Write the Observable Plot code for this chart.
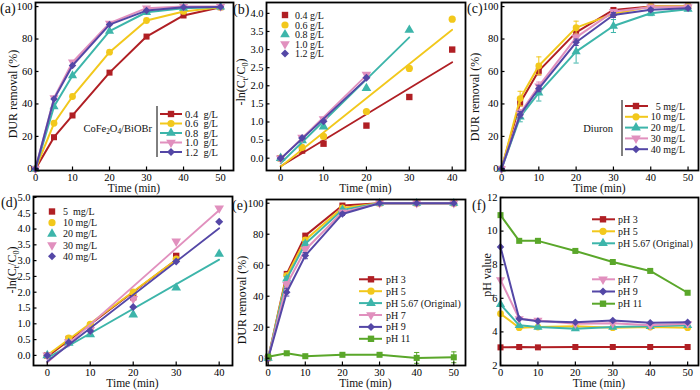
<!DOCTYPE html>
<html><head><meta charset="utf-8">
<script src="https://cdn.jsdelivr.net/npm/d3@7"></script>
<script src="https://cdn.jsdelivr.net/npm/@observablehq/plot@0.6"></script>
<style>
body{margin:0;background:#fff;}
#chart{position:relative;width:700px;height:390px;overflow:hidden;background:#fff;}
#chart svg{position:absolute;left:0;top:0;}
</style></head><body><div id="chart"></div>
<script>
const FONT = "'Liberation Serif','Times New Roman',serif";
const seriesColors = ["#b01f24", "#f2c81c", "#3db5aa", "#e190be", "#5447a6", "#5aa72a"];
const seriesSymbols = ["square", "circle", "triangle", "down", "diamond", "square"];

// ---------- (a) catalyst dosage ----------
const timeA = [0, 5, 10, 20, 30, 40, 50];
const dosageLabels = ["0.4  g/L", "0.6  g/L", "0.8  g/L", "1.0  g/L", "1.2  g/L"];
const remA04 = [0, 19.5, 32.9, 59.3, 81.5, 94.5, 99.6];
const remA06 = [0, 28.1, 44.6, 71.9, 91.4, 97.0, 99.5];
const remA08 = [0, 38.4, 57.5, 84.8, 96.5, 99.0, 99.8];
const remA10 = [0, 43.7, 65.7, 89.7, 99.0, 100, 100];
const remA12 = [0, 43.0, 63.7, 88.9, 97.5, 99.6, 99.8];

// ---------- (b) kinetics, dosage ----------
const timeB = [0, 5, 10, 20, 30, 40];
const dosageLabelsB = ["0.4 g/L", "0.6 g/L", "0.8 g/L", "1.0 g/L", "1.2 g/L"];
const lnB04 = [0, 0.21, 0.40, 0.90, 1.69, 3.00];
const lnB06 = [0, 0.30, 0.60, 1.29, 2.48, 3.84];
const lnB08 = [0, 0.49, 0.87, 1.93, 3.54];
const lnB10 = [0, 0.57, 1.08, 2.31];
const lnB12 = [0, 0.56, 1.02, 2.22];

// ---------- (c) diuron concentration ----------
const timeC = [0, 5, 10, 20, 30, 40, 50];
const concLabels = ["5 mg/L", "10 mg/L", "20 mg/L", "30 mg/L", "40 mg/L"];
const remC5 = [0, 40.8, 60.4, 84.1, 97.9, 100, 100];
const remC10 = [0, 43.3, 63.5, 87.0, 95.5, 100, 100];
const remC20 = [0, 32.0, 46.8, 72.2, 88.0, 95.9, 98.4];
const remC30 = [0, 34.4, 51.0, 81.0, 96.9, 99.6, 99.8];
const remC40 = [0, 33.4, 49.5, 78.0, 94.8, 98.0, 99.0];
const errC5 = [0, 2, 2.5, 2, 1, 0.5, 0.5];
const errC10 = [0, 4.5, 5.5, 4, 1.5, 0.5, 0.5];
const errC20 = [0, 3, 5, 7, 4, 1.5, 1];
const errC30 = [0, 2, 2.5, 2, 1, 0.5, 0.5];
const errC40 = [0, 2, 2, 2, 1.5, 1, 0.5];

// ---------- (d) kinetics, concentration ----------
const timeD = [0, 5, 10, 20, 30, 40];
const concLabelsD = ["5  mg/L", "10 mg/L", "20 mg/L", "30 mg/L", "40 mg/L"];
const lnD5 = [0, 0.52, 0.93, 1.84, 3.15];
const lnD10 = [0, 0.55, 0.98, 2.00, 3.05];
const lnD20 = [0, 0.39, 0.66, 1.29, 2.14, 3.21];
const lnD30 = [0, 0.42, 0.81, 1.79, 3.61, 4.66];
const lnD40 = [0, 0.41, 0.77, 1.53, 2.97, 4.23];

// ---------- (e) initial pH ----------
const timeE = [0, 5, 10, 20, 30, 40, 50];
const phLabels = ["pH 3", "pH 5", "pH 5.67 (Original)", "pH 7", "pH 9", "pH 11"];
const remE3 = [0, 54.4, 79.1, 98.5, 100, 100, 100];
const remE5 = [0, 53.3, 76.3, 97.0, 100, 100, 100];
const remE567 = [0, 51.2, 73.8, 95.7, 100, 100, 100];
const remE7 = [0, 47.5, 70.0, 94.2, 100, 100, 100];
const remE9 = [0, 42.6, 66.2, 93.1, 100, 100, 100];
const remE11 = [1.0, 3.2, 1.3, 2.2, 2.2, 0.2, 0.6];
const errE3 = [0, 1, 1, 1, 0, 0, 0];
const errE5 = [0, 1.5, 1.5, 1, 0, 0, 0];
const errE567 = [0, 1.5, 1.5, 1, 0, 0, 0];
const errE7 = [0, 2, 2, 1, 0, 0, 0];
const errE9 = [0, 2.5, 2, 1, 0, 0, 0];
const errE11 = [0, 1, 0.5, 0.5, 1, 3.5, 3.5];

// ---------- (f) pH value ----------
const timeF = [0, 5, 10, 20, 30, 40, 50];
const phF3 = [3.08, 3.10, 3.08, 3.10, 3.10, 3.10, 3.10];
const phF5 = [5.08, 4.25, 4.29, 4.33, 4.25, 4.29, 4.25];
const phF567 = [5.64, 4.39, 4.29, 4.19, 4.29, 4.33, 4.39];
const phF7 = [7.10, 4.78, 4.68, 4.48, 4.52, 4.39, 4.48];
const phF9 = [9.06, 4.78, 4.64, 4.58, 4.68, 4.54, 4.58];
const phF11 = [10.95, 9.42, 9.42, 8.82, 8.16, 7.63, 6.33];

// ticks
const ticksX50 = [0, 10, 20, 30, 40, 50];
const ticksX40 = [0, 10, 20, 30, 40];
const ticksY100 = [0, 20, 40, 60, 80, 100];
const ticksYb = [0, 0.5, 1, 1.5, 2, 2.5, 3, 3.5, 4];
const ticksYd = [0, 0.5, 1, 1.5, 2, 2.5, 3, 3.5, 4, 4.5, 5];
const ticksYf = [2, 4, 6, 8, 10, 12];

// ---------- helpers ----------
const rows = (times, vals, errs) => vals.map((v, i) => ({t: times[i], v, e: errs ? errs[i] : 0}));
const plotSym = s => ({square: "square", circle: "circle", triangle: "triangle", down: "triangle", diamond: "diamond2"})[s];
const capSymbol = {draw(ctx, size) { const w = Math.sqrt(size / Math.PI); ctx.moveTo(-w, 0); ctx.lineTo(w, 0); }};

function lineSeries(data, i, {r = 3.4, sw = 2, err = false} = {}) {
  const color = seriesColors[i], sym = seriesSymbols[i];
  const m = [];
  if (err) {
    const er = data.filter(d => d.e > 0);
    m.push(Plot.ruleX(er, {x: "t", y1: d => d.v - d.e, y2: d => d.v + d.e, stroke: color, strokeWidth: 1}));
    m.push(Plot.dot(er, {x: "t", y: d => d.v + d.e, symbol: capSymbol, r: 2.6, stroke: color, fill: "none", strokeWidth: 1}));
    m.push(Plot.dot(er, {x: "t", y: d => d.v - d.e, symbol: capSymbol, r: 2.6, stroke: color, fill: "none", strokeWidth: 1}));
  }
  m.push(Plot.line(data, {x: "t", y: "v", stroke: color, strokeWidth: sw}));
  m.push(Plot.dot(data, {x: "t", y: "v", symbol: plotSym(sym), fill: color, stroke: "none", r, rotate: sym === "down" ? 180 : 0}));
  return m;
}
function fitSeries(data, i, r = 3.6) {
  const color = seriesColors[i], sym = seriesSymbols[i];
  return [
    Plot.linearRegressionY(data, {x: "t", y: "v", stroke: color, strokeWidth: 1.8, ci: 0}),
    Plot.dot(data, {x: "t", y: "v", symbol: plotSym(sym), fill: color, stroke: "none", r, rotate: sym === "down" ? 180 : 0})
  ];
}

const d3Sym = s => ({square: d3.symbolSquare, circle: d3.symbolCircle, triangle: d3.symbolTriangle, down: d3.symbolTriangle, diamond: d3.symbolDiamond2 || d3.symbolDiamond})[s];

function richText(sel, parts, fs) {
  let shifted = 0;
  parts.forEach(p => {
    if (typeof p === "string") {
      const t = sel.append("tspan").text(p);
      if (shifted) { t.attr("dy", -shifted); shifted = 0; }
    } else {
      const d = fs * 0.3;
      sel.append("tspan").attr("font-size", fs * 0.7).attr("dy", d).text(p.sub);
      shifted = d;
    }
  });
}

function panel(p) {
  const w = p.R - p.L, h = p.B - p.T;
  const svg = Plot.plot({
    width: 700, height: 390,
    marginLeft: p.L, marginRight: 700 - p.R, marginTop: p.T, marginBottom: 390 - p.B,
    x: {domain: p.xDomain}, y: {domain: p.yDomain},
    style: {background: "transparent", fontFamily: FONT, color: "#000", overflow: "visible"},
    marks: [
      ...p.marks,
      Plot.axisX(p.xTicks, {tickSize: 0, tickPadding: 3, label: null, fontSize: 10.5, fontFamily: FONT}),
      Plot.axisY(p.yTicks, {tickSize: 0, tickPadding: 3, label: null, fontSize: 10.5, fontFamily: FONT, tickFormat: p.yFmt}),
      Plot.tickX(p.xTicks, {x: d => d, insetTop: h - 3.5, stroke: "#000", strokeWidth: 1.2}),
      Plot.tickY(p.yTicks, {y: d => d, insetRight: w - 3.5, stroke: "#000", strokeWidth: 1.2}),
      Plot.frame({stroke: "#000", strokeWidth: 1.8})
    ]
  });
  const s = d3.select(svg);
  const g = s.append("g").attr("font-family", FONT).attr("font-weight", "normal").attr("fill", "#111").attr("text-anchor", "start");
  // letter
  g.append("text").attr("x", p.letter[1]).attr("y", p.letter[2]).attr("font-size", 14).text(p.letter[0]);
  // x label
  g.append("text").attr("x", (p.L + p.R) / 2).attr("y", p.B + 18).attr("font-size", 11.5)
    .attr("text-anchor", "middle").attr("dominant-baseline", "central").text("Time (min)");
  // y label
  const yl = g.append("text").attr("transform", `translate(${p.ylab[0]},${p.ylab[1]}) rotate(-90)`)
    .attr("font-size", 12).attr("text-anchor", "middle").attr("dominant-baseline", "central");
  richText(yl, p.ylabel, 12);
  // legend
  const L = p.legend;
  if (L) {
    const fs = L.fs || 10;
    const lg = g.append("g").attr("font-size", fs);
    if (L.bar) lg.append("line").attr("x1", L.bar[0]).attr("x2", L.bar[0]).attr("y1", L.bar[1]).attr("y2", L.bar[2]).attr("stroke", "#000").attr("stroke-width", 1);
    L.items.forEach((it, k) => {
      const y = L.ys[k], c = seriesColors[it.i], sym = seriesSymbols[it.i];
      if (L.line) lg.append("line").attr("x1", L.line[0]).attr("x2", L.line[1]).attr("y1", y).attr("y2", y).attr("stroke", c).attr("stroke-width", 2);
      const r = L.r || 3.6;
      lg.append("path").attr("d", d3.symbol(d3Sym(sym), Math.PI * r * r)())
        .attr("transform", `translate(${L.xm},${y})${sym === "down" ? " rotate(180)" : ""}`).attr("fill", c);
      lg.append("text").attr("x", L.xt).attr("y", y).attr("dominant-baseline", "central")
        .attr("text-anchor", L.anchor || "start").style("white-space", "pre").text(it.label);
    });
    if (L.note) {
      const nfs = L.note.fs || 10.5;
      const nt = lg.append("text").attr("x", L.note.x).attr("y", L.note.y).attr("text-anchor", "end")
        .attr("dominant-baseline", "central").attr("font-size", nfs);
      richText(nt, L.note.parts, nfs);
    }
  }
  document.getElementById("chart").appendChild(svg);
}

const lnLabel = ["-ln(C", {sub: "t"}, "/C", {sub: "0"}, ")"];
const f1 = d3.format(".1f");

// (a)
panel({
  L: 35, R: 233, T: 2, B: 170, xDomain: [0, 53.5], yDomain: [-1, 102.5],
  xTicks: ticksX50, yTicks: ticksY100, letter: ["(a)", 0, 13],
  ylab: [13, 94], ylabel: ["DUR removal (%)"],
  marks: [remA04, remA06, remA08, remA10, remA12].flatMap((v, i) => lineSeries(rows(timeA, v), i)),
  legend: {bar: [157, 106, 157], line: [160, 182], xm: 171, xt: 185, fs: 10.5,
    ys: [114, 123.5, 133, 142.5, 152], items: dosageLabels.map((label, i) => ({label, i})),
    note: {x: 152, y: 128, parts: ["CoFe", {sub: "2"}, "O", {sub: "4"}, "/BiOBr"]}}
});

// (b)
panel({
  L: 266, R: 465, T: 2, B: 170, xDomain: [-3.3, 43.1], yDomain: [-0.34, 4.3],
  xTicks: ticksX40, yTicks: ticksYb, yFmt: f1, letter: ["(b)", 233, 14],
  ylab: [241, 82], ylabel: lnLabel,
  marks: [lnB04, lnB06, lnB08, lnB10, lnB12].flatMap((v, i) => fitSeries(rows(timeB, v), i)),
  legend: {xm: 285, xt: 295, ys: [15, 25, 34.5, 44, 53.5], items: dosageLabelsB.map((label, i) => ({label, i}))}
});

// (c)
panel({
  L: 501, R: 698, T: 2, B: 170, xDomain: [0, 52.8], yDomain: [-1, 102.5],
  xTicks: ticksX50, yTicks: ticksY100, letter: ["(c)", 467, 13],
  ylab: [475, 97], ylabel: ["DUR removal (%)"],
  marks: [[remC5, errC5], [remC10, errC10], [remC20, errC20], [remC30, errC30], [remC40, errC40]]
    .flatMap(([v, e], i) => lineSeries(rows(timeC, v, e), i, {err: true})),
  legend: {bar: [622, 100, 156], line: [625, 648], xm: 636, xt: 685, anchor: "end",
    ys: [106, 116.8, 127.6, 138.4, 149.2], items: concLabels.map((label, i) => ({label, i})),
    note: {x: 613, y: 128, parts: ["Diuron"], fs: 10.5}}
});

// (d)
panel({
  L: 33, R: 232, T: 196, B: 365, xDomain: [-3.2, 43.1], yDomain: [-0.32, 5.03],
  xTicks: ticksX40, yTicks: ticksYd, yFmt: f1, letter: ["(d)", 1, 207],
  ylab: [12, 270], ylabel: lnLabel,
  marks: [lnD5, lnD10, lnD20, lnD30, lnD40].flatMap((v, i) => fitSeries(rows(timeD, v), i)),
  legend: {xm: 52, xt: 63, ys: [211.5, 222.7, 233.9, 245.1, 256.3], items: concLabelsD.map((label, i) => ({label, i}))}
});

// (e)
panel({
  L: 266, R: 465, T: 199, B: 365, xDomain: [-0.45, 53.15], yDomain: [-4.7, 102.4],
  xTicks: ticksX50, yTicks: ticksY100, letter: ["(e)", 232, 210],
  ylab: [242, 300], ylabel: ["DUR removal (%)"],
  marks: [[remE3, errE3], [remE5, errE5], [remE567, errE567], [remE7, errE7], [remE9, errE9], [remE11, errE11]]
    .flatMap(([v, e], i) => lineSeries(rows(timeE, v, e), i, {err: true})),
  legend: {line: [359, 382], xm: 371, xt: 386, ys: [279.3, 291.2, 303.1, 315, 326.9, 338.8],
    items: phLabels.map((label, i) => ({label, i}))}
});

// (f)
panel({
  L: 500, R: 698, T: 197, B: 365, xDomain: [0, 52.9], yDomain: [2, 12],
  xTicks: ticksX50, yTicks: ticksYf, letter: ["(f)", 472, 210],
  ylab: [487, 275], ylabel: ["pH value"],
  marks: [phF3, phF5, phF567, phF7, phF9, phF11].flatMap((v, i) => lineSeries(rows(timeF, v), i)),
  legend: {line: [592, 615], xm: 603, xt: 618, ys: [219.3, 231.3, 243.3, 279.3, 291.5, 303.7],
    items: phLabels.map((label, i) => ({label, i}))}
});
</script></body></html>
